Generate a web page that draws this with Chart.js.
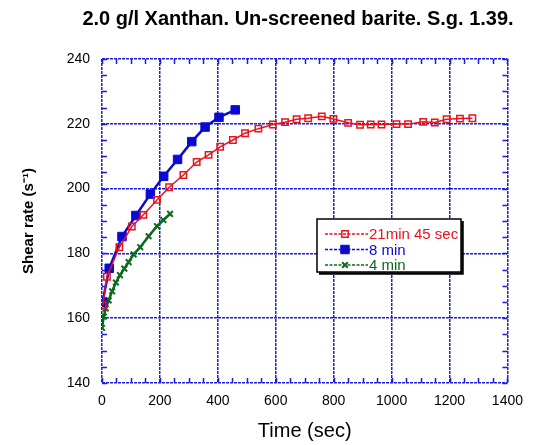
<!DOCTYPE html>
<html>
<head>
<meta charset="utf-8">
<script src="https://cdn.jsdelivr.net/npm/chart.js@4.4.1/dist/chart.umd.min.js"></script>
<style>
  html, body { margin: 0; padding: 0; background: #fff; }
  #wrap { width: 533px; height: 445px; }
</style>
</head>
<body>
<div id="wrap"><canvas id="shearChart" width="533" height="445"></canvas></div>
<script>
// Datos
const chartTitle = '2.0 g/l Xanthan. Un-screened barite. S.g. 1.39.';
const seriesNames = ['21min 45 sec', '8 min', '4 min'];

const redTime = [3, 17, 60, 103, 143, 190, 232, 281, 327, 368, 408, 452, 494, 540, 590, 632, 672, 712, 759, 799, 850, 891, 928, 965, 1017, 1057, 1109, 1149, 1190, 1236, 1279];
const redRate = [164, 172.8, 181.9, 188.3, 191.9, 196.5, 200.4, 204.2, 208.2, 210.4, 212.9, 215, 217.1, 218.5, 219.8, 220.5, 221.4, 221.7, 222.3, 221.5, 220.3, 219.7, 219.8, 219.8, 219.9, 219.9, 220.6, 220.4, 221.4, 221.6, 221.7];

const blueTime = [2, 25, 69, 117, 167, 213, 261, 310, 356, 404, 460];
const blueRate = [165, 175.4, 185.2, 191.7, 198.3, 203.8, 209, 214.5, 219, 222, 224.3];

const greenTime = [0, 6, 13, 23, 35, 48, 62, 77, 92, 109, 132, 161, 190, 212, 235];
const greenRate = [157, 160.5, 163, 165.5, 168.3, 171, 173.3, 175.3, 177.3, 179.7, 181.9, 185.3, 188.4, 190.3, 192.2];

const xTicks = { min: 0, max: 1400, step: 200, minor: 50 };
const yTicks = { min: 140, max: 240, step: 20, minor: 5 };

const gridBlue = '#1c1cdc';
const FONT = '"Liberation Sans", Arial, sans-serif';

function toPoints(xs, ys) {
    return xs.map((x, i) => ({ x: x, y: ys[i] }));
}

Chart.defaults.font.family = FONT;
Chart.defaults.color = '#000';

// Titulo arriba
const titlePlugin = {
    id: 'topTitle',
    afterDraw(chart) {
        const ctx = chart.ctx;
        ctx.save();
        ctx.font = 'bold 20px ' + FONT;
        ctx.fillStyle = '#000';
        ctx.textAlign = 'center';
        ctx.textBaseline = 'middle';
        ctx.fillText(chartTitle, 298, 19);
        ctx.restore();
    }
};

// Marcas menores hacia adentro en los cuatro lados
const minorTicks = {
    id: 'minorTicks',
    beforeDatasetsDraw(chart) {
        const { ctx, chartArea: a, scales } = chart;
        const len = 5;
        ctx.save();
        ctx.strokeStyle = gridBlue;
        ctx.lineWidth = 1.5;
        ctx.beginPath();
        for (let v = xTicks.min; v <= xTicks.max; v += xTicks.minor) {
            const px = Math.round(scales.x.getPixelForValue(v)) + 0.5;
            ctx.moveTo(px, a.bottom); ctx.lineTo(px, a.bottom - len);
            ctx.moveTo(px, a.top); ctx.lineTo(px, a.top + len);
        }
        for (let v = yTicks.min; v <= yTicks.max; v += yTicks.minor) {
            const py = Math.round(scales.y.getPixelForValue(v)) + 0.5;
            ctx.moveTo(a.left, py); ctx.lineTo(a.left + len, py);
            ctx.moveTo(a.right, py); ctx.lineTo(a.right - len, py);
        }
        ctx.stroke();
        ctx.restore();
    }
};

// Leyenda en recuadro dentro del grafico
const boxLegend = {
    id: 'boxLegend',
    afterDraw(chart) {
        const ctx = chart.ctx;
        const bx = 317, by = 219, bw = 144, bh = 53;
        ctx.save();
        ctx.fillStyle = '#fff';
        ctx.fillRect(bx, by, bw, bh);
        ctx.strokeStyle = '#000';
        ctx.lineWidth = 1.5;
        ctx.strokeRect(bx, by, bw, bh);
        ctx.lineWidth = 2.5;
        ctx.beginPath();
        ctx.moveTo(bx + bw + 1.5, by + 2);
        ctx.lineTo(bx + bw + 1.5, by + bh + 1.5);
        ctx.lineTo(bx + 2, by + bh + 1.5);
        ctx.stroke();

        chart.data.datasets.forEach((ds, i) => {
            const y = by + 15 + i * 15.5;
            ctx.strokeStyle = ds.borderColor;
            ctx.lineWidth = 1.5;
            ctx.setLineDash([3, 1.5]);
            ctx.beginPath();
            ctx.moveTo(bx + 8, y);
            ctx.lineTo(bx + 51, y);
            ctx.stroke();
            ctx.setLineDash([]);
            ctx.fillStyle = ds.pointBackgroundColor;
            ctx.lineWidth = ds.pointBorderWidth;
            Chart.helpers.drawPoint(ctx, {
                pointStyle: ds.pointStyle,
                radius: ds.pointRadius,
                rotation: 0,
                borderWidth: ds.pointBorderWidth
            }, bx + 28, y);
            ctx.fillStyle = ds.borderColor;
            ctx.font = '15px ' + FONT;
            ctx.textAlign = 'left';
            ctx.textBaseline = 'middle';
            ctx.fillText(ds.label, bx + 52, y + 1);
        });
        ctx.restore();
    }
};

const ctx = document.getElementById('shearChart').getContext('2d');
new Chart(ctx, {
    type: 'scatter',
    data: {
        datasets: [
            {
                label: seriesNames[0],
                data: toPoints(redTime, redRate),
                showLine: true,
                borderColor: '#e8141c',
                borderWidth: 1.5,
                pointStyle: 'rect',
                pointRadius: 4.5,
                pointBorderWidth: 1.5,
                pointBackgroundColor: 'rgba(255,255,255,0)',
                pointBorderColor: '#e8141c'
            },
            {
                label: seriesNames[1],
                data: toPoints(blueTime, blueRate),
                showLine: true,
                borderColor: '#0a0ad2',
                borderWidth: 2.5,
                pointStyle: 'rect',
                pointRadius: 6,
                pointBorderWidth: 1,
                pointBackgroundColor: '#0a0ad2',
                pointBorderColor: '#0a0ad2'
            },
            {
                label: seriesNames[2],
                data: toPoints(greenTime, greenRate),
                showLine: true,
                borderColor: '#0c6a1e',
                borderWidth: 2.5,
                pointStyle: 'crossRot',
                pointRadius: 4,
                pointBorderWidth: 2,
                pointBackgroundColor: '#0c6a1e',
                pointBorderColor: '#0c6a1e'
            }
        ]
    },
    options: {
        responsive: false,
        animation: false,
        devicePixelRatio: 1,
        layout: { padding: { top: 59, right: 25, bottom: 0, left: 0 } },
        plugins: {
            legend: { display: false },
            tooltip: { enabled: false }
        },
        scales: {
            x: {
                type: 'linear',
                min: xTicks.min,
                max: xTicks.max,
                afterFit: function(scale) { scale.height = 62; },
                ticks: { stepSize: xTicks.step, padding: 10, font: { size: 14 }, color: '#000', callback: v => String(v) },
                grid: { color: gridBlue, lineWidth: 1.5, drawTicks: false },
                border: { display: false, dash: [3, 1] },
                title: { display: true, text: 'Time (sec)', font: { size: 20 }, color: '#000', padding: { top: 0, bottom: 2 } }
            },
            y: {
                type: 'linear',
                min: yTicks.min,
                max: yTicks.max,
                afterFit: function(scale) { scale.width = 102; },
                ticks: { stepSize: yTicks.step, padding: 12, font: { size: 14 }, color: '#000', callback: v => String(v) },
                grid: { color: gridBlue, lineWidth: 1.5, drawTicks: false },
                border: { display: false, dash: [3, 1] },
                title: { display: true, text: 'Shear rate (s⁻¹)', font: { size: 15, weight: 'bold' }, color: '#000', padding: { top: 20, bottom: 0 } }
            }
        }
    },
    plugins: [titlePlugin, minorTicks, boxLegend]
});
</script>
</body>
</html>
